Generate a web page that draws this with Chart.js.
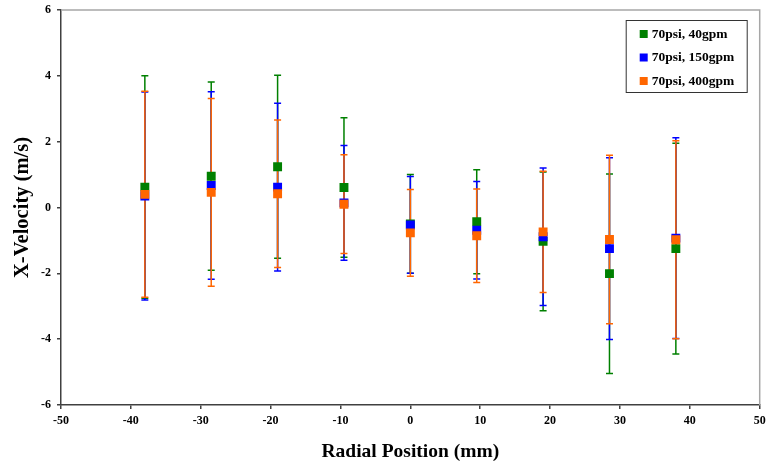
<!DOCTYPE html>
<html>
<head>
<meta charset="utf-8">
<script src="https://cdn.jsdelivr.net/npm/chart.js@4/dist/chart.umd.min.js"></script>
<style>
  html, body { margin: 0; padding: 0; background: #fff; }
  #wrap { width: 766px; height: 467px; }
</style>
</head>
<body>
<div id="wrap"><canvas id="c" width="766" height="467"></canvas></div>
<script>
// ---- data ----
const positions = [-38, -28.5, -19, -9.5, 0, 9.5, 19, 28.5, 38];
const seriesLabels = ["70psi, 40gpm", "70psi, 150gpm", "70psi, 400gpm"];
const vel40  = [0.62, 0.95, 1.24, 0.61, -0.50, -0.43, -1.03, -2.01, -1.25];
const err40  = [3.38, 2.86, 2.78, 2.12, 1.50, 1.58, 2.11, 3.03, 3.20];
const vel150 = [0.35, 0.67, 0.62, 0.14, -0.53, -0.69, -0.89, -1.25, -0.93];
const err150 = [3.16, 2.85, 2.55, 1.74, 1.47, 1.48, 2.09, 2.76, 3.05];
const vel400 = [0.40, 0.46, 0.42, 0.10, -0.77, -0.86, -0.74, -0.97, -0.98];
const err400 = [3.13, 2.85, 2.24, 1.50, 1.32, 1.42, 1.84, 2.56, 3.01];
const xTitle = "Radial Position (mm)";
const yTitle = "X-Velocity (m/s)";

const colors = ["#008000", "#0000FF", "#FF6600"];
const FONT = "'Liberation Serif', 'Times New Roman', serif";

function mk(vals) { return positions.map((x, i) => ({ x: x, y: vals[i] })); }

const datasets = [
  { label: seriesLabels[0], data: mk(vel40), errors: err40, order: 3 },
  { label: seriesLabels[1], data: mk(vel150), errors: err150, order: 2 },
  { label: seriesLabels[2], data: mk(vel400), errors: err400, order: 1 }
].map((d, i) => Object.assign(d, {
  backgroundColor: colors[i],
  borderColor: colors[i],
  borderWidth: 0,
  pointStyle: 'rect',
  pointRadius: 6.3,
  pointHoverRadius: 6.3,
  showLine: false
}));

const errorBars = {
  id: 'errorBars',
  beforeDatasetsDraw(chart) {
    const ctx = chart.ctx;
    const xs = chart.scales.x, ys = chart.scales.y;
    ctx.save();
    chart.data.datasets.forEach((ds) => {
      ctx.strokeStyle = ds.borderColor;
      ctx.lineWidth = 1.5;
      ds.data.forEach((p, i) => {
        const e = ds.errors[i];
        const px = xs.getPixelForValue(p.x);
        const top = ys.getPixelForValue(p.y + e);
        const bot = ys.getPixelForValue(p.y - e);
        ctx.beginPath();
        ctx.moveTo(px, top); ctx.lineTo(px, bot);
        ctx.moveTo(px - 3.5, top); ctx.lineTo(px + 3.5, top);
        ctx.moveTo(px - 3.5, bot); ctx.lineTo(px + 3.5, bot);
        ctx.stroke();
      });
    });
    ctx.restore();
  }
};

const frame = {
  id: 'frame',
  beforeDatasetsDraw(chart) {
    const a = chart.chartArea, ctx = chart.ctx;
    ctx.save();
    ctx.strokeStyle = '#a6a6a6';
    ctx.lineWidth = 1.5;
    ctx.beginPath();
    ctx.moveTo(a.left, a.top); ctx.lineTo(a.right, a.top); ctx.lineTo(a.right, a.bottom);
    ctx.stroke();
    ctx.restore();
  }
};

const legendBox = {
  id: 'legendBox',
  afterDraw(chart) {
    const a = chart.chartArea, ctx = chart.ctx;
    const w = 121, h = 72;
    const bx = a.right - 13 - w, by = a.top + 10;
    ctx.save();
    ctx.fillStyle = '#fff';
    ctx.fillRect(bx, by, w, h);
    ctx.strokeStyle = '#333';
    ctx.lineWidth = 1;
    ctx.strokeRect(bx + 0.5, by + 0.5, w, h);
    ctx.font = "bold 13.5px " + FONT;
    ctx.textBaseline = 'middle';
    ctx.textAlign = 'left';
    chart.data.datasets.forEach((ds, i) => {
      const cy = by + 14 + i * 23.5;
      ctx.fillStyle = ds.backgroundColor;
      ctx.fillRect(bx + 14, cy - 4, 8, 8);
      ctx.fillStyle = '#000';
      ctx.fillText(ds.label, bx + 26, cy + 0.5);
    });
    ctx.restore();
  }
};

new Chart(document.getElementById('c'), {
  type: 'scatter',
  data: { datasets: datasets },
  plugins: [frame, errorBars, legendBox],
  options: {
    responsive: false,
    animation: false,
    devicePixelRatio: 1,
    layout: { padding: { top: 10, right: 4, left: 0, bottom: 0 } },
    plugins: { legend: { display: false }, tooltip: { enabled: false } },
    scales: {
      x: {
        type: 'linear', min: -50, max: 50,
        ticks: { stepSize: 10, color: '#000', padding: 5, maxRotation: 0,
                 font: { family: FONT, size: 12, weight: 'bold' } },
        grid: { drawOnChartArea: false, drawTicks: true, tickLength: 4, color: '#404040', lineWidth: 1.5 },
        border: { display: true, color: '#404040', width: 1.5 },
        title: { display: true, text: xTitle, color: '#000', padding: { top: 0, bottom: 3 },
                 font: { family: FONT, size: 19.5, weight: 'bold' } },
        afterFit(s) { s.height = 62; s.paddingLeft = 0; s.paddingRight = 0; }
      },
      y: {
        type: 'linear', min: -6, max: 6,
        ticks: { stepSize: 2, color: '#000', padding: 6,
                 font: { family: FONT, size: 12, weight: 'bold' } },
        grid: { drawOnChartArea: false, drawTicks: true, tickLength: 4, color: '#404040', lineWidth: 1.5 },
        border: { display: true, color: '#404040', width: 1.5 },
        title: { display: true, text: yTitle, color: '#000', padding: { top: 10, bottom: 0 },
                 font: { family: FONT, size: 20.5, weight: 'bold' } },
        afterFit(s) { s.width = 61; s.paddingTop = 0; s.paddingBottom = 0; }
      }
    }
  }
});
</script>
</body>
</html>
